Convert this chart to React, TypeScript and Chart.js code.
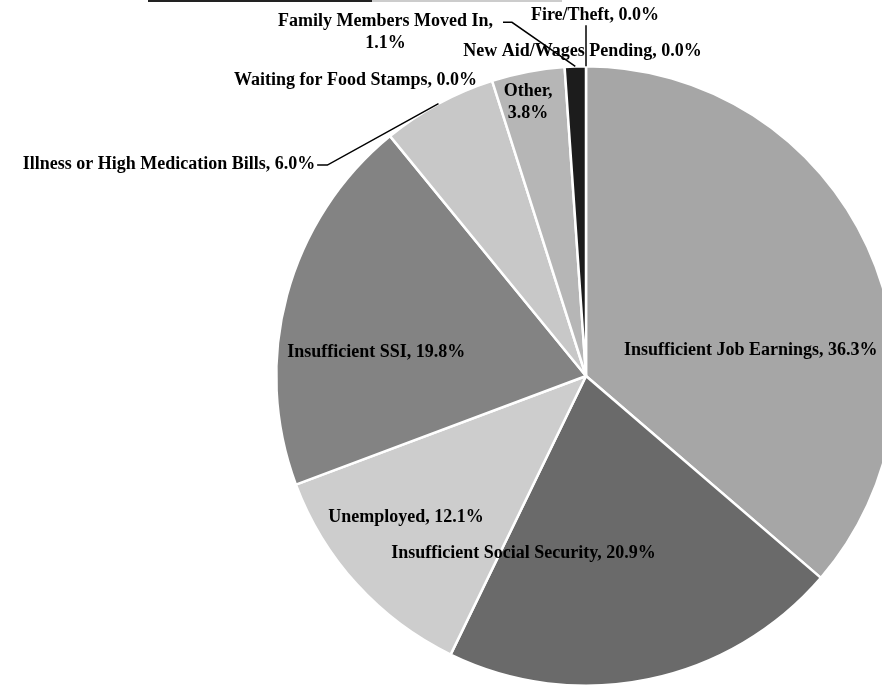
import React, { useEffect, useRef } from "react";
import { Chart, registerables } from "chart.js";

Chart.register(...registerables);

const categories = [
  "Insufficient Job Earnings",
  "Insufficient Social Security",
  "Unemployed",
  "Insufficient SSI",
  "Illness or High Medication Bills",
  "Waiting for Food Stamps",
  "Other",
  "Family Members Moved In",
  "New Aid/Wages Pending",
  "Fire/Theft",
];

const shares = [36.3, 20.9, 12.1, 19.8, 6.0, 0.0, 3.8, 1.1, 0.0, 0.0];

const sliceColors = [
  "#a6a6a6",
  "#6a6a6a",
  "#cdcdcd",
  "#838383",
  "#c8c8c8",
  "#bdbdbd",
  "#b6b6b6",
  "#1c1c1c",
  "#888888",
  "#888888",
];

// Label placement relative to the pie centre, in units of the pie radius.
type Place = {
  dx: number;
  dy: number;
  align: CanvasTextAlign;
  wrap?: boolean;
  leader?: [number, number][];
};

const placements: Place[] = [
  { dx: 0.532, dy: -0.084, align: "center" },
  { dx: -0.202, dy: 0.571, align: "center" },
  { dx: -0.581, dy: 0.455, align: "center" },
  { dx: -0.677, dy: -0.077, align: "center" },
  { dx: -0.874, dy: -0.684, align: "right", leader: [[-0.868, -0.681], [-0.835, -0.681]] },
  { dx: -0.744, dy: -0.955, align: "center" },
  { dx: -0.187, dy: -0.882, align: "center", wrap: true },
  { dx: -0.647, dy: -1.111, align: "center", wrap: true, leader: [[-0.268, -1.142], [-0.239, -1.142]] },
  { dx: -0.011, dy: -1.048, align: "center" },
  { dx: 0.029, dy: -1.165, align: "center", leader: [[0, -1.132]] },
];

const LINE_H = 22;

const labelPlugin = {
  id: "sliceLabels",
  beforeDraw(chart: any) {
    // thin page rule at the very top of the scanned page
    const ctx: CanvasRenderingContext2D = chart.ctx;
    ctx.save();
    ctx.strokeStyle = "#222";
    ctx.lineWidth = 2;
    ctx.beginPath();
    ctx.moveTo(148, 1);
    ctx.lineTo(372, 1);
    ctx.stroke();
    ctx.strokeStyle = "#999";
    ctx.lineWidth = 1;
    ctx.beginPath();
    ctx.moveTo(372, 1);
    ctx.lineTo(562, 1);
    ctx.stroke();
    ctx.restore();
  },
  afterDatasetsDraw(chart: any) {
    const ctx: CanvasRenderingContext2D = chart.ctx;
    const meta = chart.getDatasetMeta(0);
    ctx.save();
    ctx.font = "bold 18px 'Liberation Serif', 'Times New Roman', serif";
    ctx.fillStyle = "#000";
    ctx.strokeStyle = "#000";
    ctx.lineWidth = 1.5;
    ctx.textBaseline = "middle";
    meta.data.forEach((arc: any, i: number) => {
      const { x, y, startAngle, endAngle, outerRadius } = arc.getProps(
        ["x", "y", "startAngle", "endAngle", "outerRadius"],
        true
      );
      const R = outerRadius;
      const mid = (startAngle + endAngle) / 2;
      const p = placements[i];
      const lx = x + p.dx * R;
      const ly = y + p.dy * R;
      const pct = `${shares[i].toFixed(1)}%`;
      const lines = p.wrap ? [`${categories[i]},`, pct] : [`${categories[i]}, ${pct}`];
      ctx.textAlign = p.align;
      lines.forEach((t, k) => {
        ctx.fillText(t, lx, ly + (k - (lines.length - 1) / 2) * LINE_H);
      });
      if (p.leader) {
        ctx.beginPath();
        p.leader.forEach(([ax, ay], k) => {
          const px = x + ax * R;
          const py = y + ay * R;
          if (k === 0) ctx.moveTo(px, py);
          else ctx.lineTo(px, py);
        });
        ctx.lineTo(x + R * Math.cos(mid), y + R * Math.sin(mid));
        ctx.stroke();
      }
    });
    ctx.restore();
  },
};

export default function App() {
  const ref = useRef<HTMLCanvasElement | null>(null);

  useEffect(() => {
    if (!ref.current) return;
    const chart = new Chart(ref.current, {
      type: "pie",
      data: {
        labels: categories,
        datasets: [
          {
            data: shares,
            backgroundColor: sliceColors,
            borderColor: "#ffffff",
            borderWidth: 2.5,
          },
        ],
      },
      options: {
        responsive: false,
        maintainAspectRatio: false,
        animation: false,
        layout: { padding: { left: 275, top: 65, right: 13, bottom: 13 } },
        plugins: {
          legend: { display: false },
          tooltip: { enabled: false },
        },
      },
      plugins: [labelPlugin],
    });
    return () => chart.destroy();
  }, []);

  return (
    <div
      style={{
        position: "absolute",
        left: 0,
        top: 0,
        width: 882,
        height: 686,
        overflow: "hidden",
        background: "#fff",
      }}
    >
      <canvas ref={ref} width={910} height={700} style={{ display: "block" }} />
    </div>
  );
}
